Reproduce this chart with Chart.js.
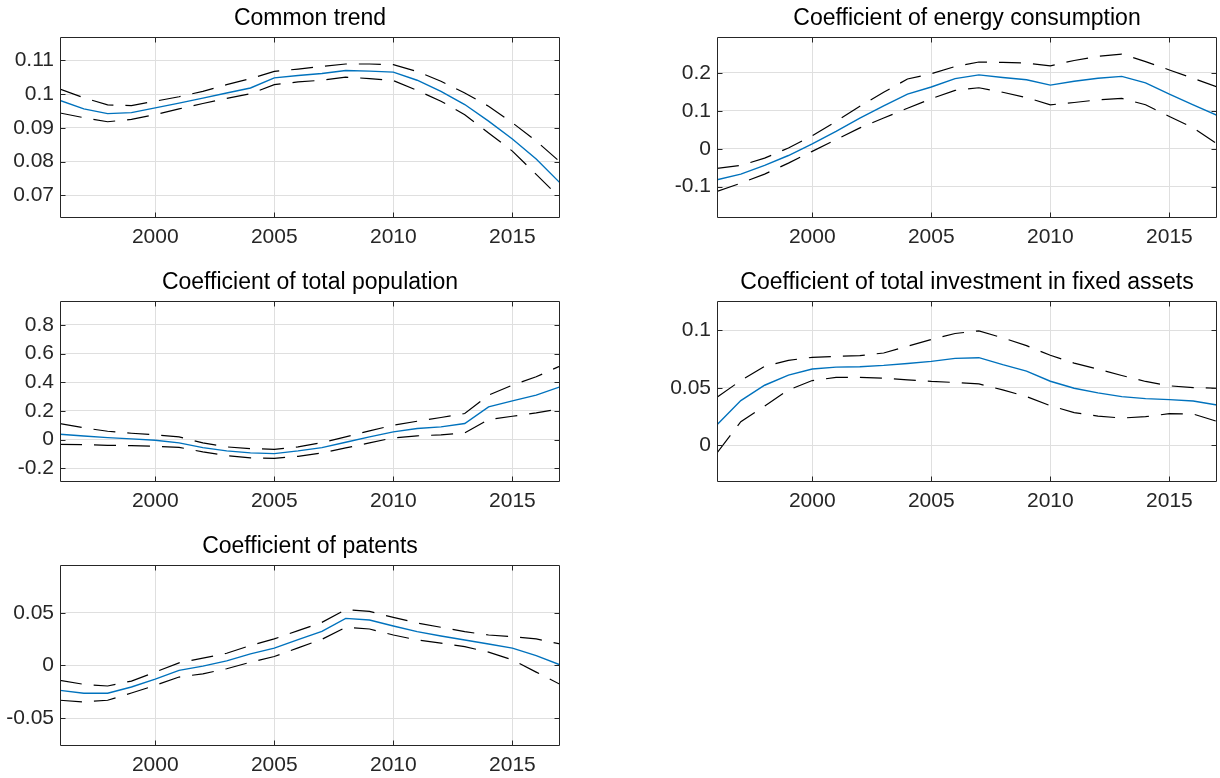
<!DOCTYPE html>
<html>
<head>
<meta charset="utf-8">
<script src="https://cdn.jsdelivr.net/npm/chart.js@4.4.1/dist/chart.umd.min.js"></script>
<style>
  html, body { margin: 0; padding: 0; background: #ffffff; }
  #fig { position: relative; width: 1220px; height: 778px; overflow: hidden; background: #ffffff; }
  #fig canvas { position: absolute; }
</style>
</head>
<body>
<div id="fig"></div>
<script>
// Sample years (x axis)
const years = [1996, 1997, 1998, 1999, 2000, 2001, 2002, 2003, 2004, 2005, 2006,
               2007, 2008, 2009, 2010, 2011, 2012, 2013, 2014, 2015, 2016, 2017];
const xTickValues = [2000, 2005, 2010, 2015];
const xTickLabels = ['2000', '2005', '2010', '2015'];

// Common trend: estimate with upper / lower bands
const trendEstimate = [0.0981, 0.0956, 0.0942, 0.0945, 0.0959, 0.0973, 0.0988, 0.1003, 0.1018, 0.1048, 0.1055,
                       0.1061, 0.1070, 0.1068, 0.1065, 0.1041, 0.1008, 0.0969, 0.0920, 0.0867, 0.0808, 0.0737];
const trendUpper    = [0.1015, 0.0989, 0.0968, 0.0966, 0.0979, 0.0992, 0.1008, 0.1028, 0.1046, 0.1067, 0.1074,
                       0.1082, 0.1089, 0.1089, 0.1087, 0.1067, 0.1038, 0.1003, 0.0964, 0.0915, 0.0861, 0.0799];
const trendLower    = [0.0944, 0.0930, 0.0918, 0.0925, 0.0939, 0.0956, 0.0972, 0.0987, 0.1001, 0.1028, 0.1036,
                       0.1041, 0.1050, 0.1046, 0.1040, 0.1011, 0.0979, 0.0939, 0.0885, 0.0831, 0.0762, 0.0693];
const trendTickValues = [0.07, 0.08, 0.09, 0.1, 0.11];
const trendTickLabels = ['0.07', '0.08', '0.09', '0.1', '0.11'];

// Coefficient of energy consumption
const energyEstimate = [-0.082, -0.067, -0.044, -0.018, 0.013, 0.046, 0.081, 0.113, 0.144, 0.163, 0.185,
                        0.195, 0.188, 0.182, 0.168, 0.178, 0.186, 0.191, 0.174, 0.144, 0.116, 0.088];
const energyUpper    = [-0.052, -0.044, -0.025, 0.002, 0.034, 0.072, 0.112, 0.149, 0.184, 0.198, 0.217,
                        0.229, 0.228, 0.226, 0.219, 0.233, 0.244, 0.250, 0.230, 0.208, 0.186, 0.163];
const energyLower    = [-0.113, -0.091, -0.067, -0.038, -0.007, 0.024, 0.055, 0.081, 0.107, 0.132, 0.154,
                        0.161, 0.149, 0.135, 0.116, 0.122, 0.129, 0.133, 0.116, 0.085, 0.055, 0.013];
const energyTickValues = [-0.1, 0, 0.1, 0.2];
const energyTickLabels = ['-0.1', '0', '0.1', '0.2'];

// Coefficient of total population
const populationEstimate = [0.037, 0.025, 0.014, 0.005, -0.005, -0.023, -0.056, -0.079, -0.093, -0.098, -0.079,
                            -0.056, -0.019, 0.019, 0.054, 0.077, 0.089, 0.112, 0.228, 0.270, 0.310, 0.368];
const populationUpper    = [0.112, 0.082, 0.058, 0.044, 0.033, 0.019, -0.023, -0.051, -0.063, -0.068, -0.051,
                            -0.021, 0.019, 0.061, 0.100, 0.128, 0.154, 0.182, 0.310, 0.380, 0.438, 0.513];
const populationLower    = [-0.033, -0.035, -0.040, -0.042, -0.047, -0.054, -0.086, -0.112, -0.128, -0.131, -0.117,
                            -0.093, -0.058, -0.023, 0.012, 0.026, 0.033, 0.047, 0.140, 0.163, 0.186, 0.214];
const populationTickValues = [-0.2, 0, 0.2, 0.4, 0.6, 0.8];
const populationTickLabels = ['-0.2', '0', '0.2', '0.4', '0.6', '0.8'];

// Coefficient of total investment in fixed assets
const investmentEstimate = [0.0178, 0.0389, 0.0523, 0.0611, 0.0664, 0.0681, 0.0684, 0.0696, 0.0713, 0.0731, 0.0757,
                            0.0763, 0.0702, 0.0646, 0.0558, 0.0497, 0.0456, 0.0424, 0.0406, 0.0398, 0.0386, 0.0351];
const investmentUpper    = [0.0418, 0.0564, 0.0687, 0.0740, 0.0766, 0.0775, 0.0781, 0.0804, 0.0863, 0.0921, 0.0974,
                            0.0997, 0.0936, 0.0868, 0.0784, 0.0716, 0.0664, 0.0608, 0.0556, 0.0518, 0.0503, 0.0497];
const investmentLower    = [-0.0067, 0.0205, 0.0342, 0.0482, 0.0564, 0.0591, 0.0591, 0.0585, 0.0570, 0.0556, 0.0547,
                            0.0535, 0.0482, 0.0424, 0.0345, 0.0284, 0.0254, 0.0237, 0.0249, 0.0275, 0.0272, 0.0208];
const investmentTickValues = [0, 0.05, 0.1];
const investmentTickLabels = ['0', '0.05', '0.1'];

// Coefficient of patents
const patentsEstimate = [-0.0236, -0.0264, -0.0264, -0.0204, -0.0129, -0.0047, -0.0006, 0.0044, 0.0110, 0.0164, 0.0245,
                         0.0324, 0.0447, 0.0431, 0.0374, 0.0321, 0.0280, 0.0242, 0.0204, 0.0164, 0.0094, 0.0006];
const patentsUpper    = [-0.0142, -0.0179, -0.0195, -0.0148, -0.0063, 0.0025, 0.0069, 0.0116, 0.0189, 0.0252, 0.0330,
                         0.0409, 0.0531, 0.0513, 0.0456, 0.0403, 0.0362, 0.0321, 0.0289, 0.0274, 0.0252, 0.0204];
const patentsLower    = [-0.0330, -0.0346, -0.0330, -0.0261, -0.0189, -0.0110, -0.0079, -0.0031, 0.0031, 0.0085, 0.0167,
                         0.0248, 0.0362, 0.0346, 0.0289, 0.0242, 0.0211, 0.0179, 0.0126, 0.0053, -0.0063, -0.0179];
const patentsTickValues = [-0.05, 0, 0.05];
const patentsTickLabels = ['-0.05', '0', '0.05'];

// ---- styling / layout ----
const FONT = '"Liberation Sans", Arial, Helvetica, sans-serif';
const TICK_SIZE = 21;
const TITLE_SIZE = 23;
const AXIS_COLOR = '#262626';
const GRID_COLOR = '#dfdfdf';
const EST_COLOR = '#0072BD';
const BAND_COLOR = '#000000';
const BAND_DASH = [22, 12];

const BOX_W = 500, BOX_H = 181;
const Y_AXIS_W = 60, X_AXIS_H = 40, TITLE_SPACE = 31, RIGHT_PAD = 10;

const panels = [
  { title: 'Common trend', est: trendEstimate, up: trendUpper, lo: trendLower,
    ticks: trendTickValues, labels: trendTickLabels, min: 0.0633, max: 0.1169, left: 60, top: 37 },
  { title: 'Coefficient of energy consumption', est: energyEstimate, up: energyUpper, lo: energyLower,
    ticks: energyTickValues, labels: energyTickLabels, min: -0.183, max: 0.295, left: 717, top: 37 },
  { title: 'Coefficient of total population', est: populationEstimate, up: populationUpper, lo: populationLower,
    ticks: populationTickValues, labels: populationTickLabels, min: -0.296, max: 0.967, left: 60, top: 301 },
  { title: 'Coefficient of total investment in fixed assets', est: investmentEstimate, up: investmentUpper, lo: investmentLower,
    ticks: investmentTickValues, labels: investmentTickLabels, min: -0.032, max: 0.1257, left: 717, top: 301 },
  { title: 'Coefficient of patents', est: patentsEstimate, up: patentsUpper, lo: patentsLower,
    ticks: patentsTickValues, labels: patentsTickLabels, min: -0.0764, max: 0.0953, left: 60, top: 565 }
];

// Axes box with inward tick marks on all four sides
const axesFrame = {
  id: 'axesFrame',
  afterDatasetsDraw(chart) {
    const { ctx, chartArea: a, scales } = chart;
    const tickLen = 5;
    ctx.save();
    ctx.strokeStyle = AXIS_COLOR;
    ctx.lineWidth = 1;
    ctx.beginPath();
    const l = Math.round(a.left) + 0.5, r = Math.round(a.right) - 0.5;
    const t = Math.round(a.top) + 0.5, b = Math.round(a.bottom) - 0.5;
    ctx.rect(l, t, r - l, b - t);
    scales.x.ticks.forEach(tk => {
      const px = Math.round(scales.x.getPixelForValue(tk.value)) + 0.5;
      ctx.moveTo(px, b); ctx.lineTo(px, b - tickLen);
      ctx.moveTo(px, t); ctx.lineTo(px, t + tickLen);
    });
    scales.y.ticks.forEach(tk => {
      const py = Math.round(scales.y.getPixelForValue(tk.value)) + 0.5;
      ctx.moveTo(l, py); ctx.lineTo(l + tickLen, py);
      ctx.moveTo(r, py); ctx.lineTo(r - tickLen, py);
    });
    ctx.stroke();
    ctx.restore();
  }
};

const fig = document.getElementById('fig');

panels.forEach(p => {
  const canvas = document.createElement('canvas');
  const w = Y_AXIS_W + BOX_W + RIGHT_PAD;
  const h = TITLE_SPACE + BOX_H + X_AXIS_H;
  canvas.width = w; canvas.height = h;
  canvas.style.width = w + 'px'; canvas.style.height = h + 'px';
  canvas.style.left = (p.left - Y_AXIS_W) + 'px';
  canvas.style.top = (p.top - TITLE_SPACE) + 'px';
  fig.appendChild(canvas);

  const pts = vals => years.map((yr, i) => ({ x: yr, y: vals[i] }));

  new Chart(canvas, {
    type: 'line',
    data: {
      datasets: [
        { data: pts(p.up), borderColor: BAND_COLOR, borderWidth: 1.2, borderDash: BAND_DASH },
        { data: pts(p.lo), borderColor: BAND_COLOR, borderWidth: 1.2, borderDash: BAND_DASH },
        { data: pts(p.est), borderColor: EST_COLOR, borderWidth: 1.4 }
      ]
    },
    options: {
      responsive: false,
      animation: false,
      devicePixelRatio: 1,
      layout: { padding: { left: 0, right: RIGHT_PAD, top: 0, bottom: 0 } },
      elements: { point: { radius: 0 }, line: { tension: 0, fill: false } },
      plugins: {
        legend: { display: false },
        tooltip: { enabled: false },
        title: {
          display: true,
          text: p.title,
          fullSize: false,
          color: '#000000',
          font: { family: FONT, size: TITLE_SIZE, weight: 'normal', lineHeight: '26px' },
          padding: { top: 0, bottom: 5 }
        }
      },
      scales: {
        x: {
          type: 'linear',
          min: 1996, max: 2017,
          afterBuildTicks: s => { s.ticks = xTickValues.map(v => ({ value: v })); },
          afterFit: s => { s.height = X_AXIS_H; },
          grid: { color: GRID_COLOR, lineWidth: 1, drawTicks: false },
          border: { display: false },
          ticks: {
            color: AXIS_COLOR, padding: 7, maxRotation: 0, autoSkip: false,
            font: { family: FONT, size: TICK_SIZE },
            callback: (v, i) => xTickLabels[i]
          }
        },
        y: {
          type: 'linear',
          min: p.min, max: p.max,
          afterBuildTicks: s => { s.ticks = p.ticks.map(v => ({ value: v })); },
          afterFit: s => { s.width = Y_AXIS_W; },
          grid: { color: GRID_COLOR, lineWidth: 1, drawTicks: false },
          border: { display: false },
          ticks: {
            color: AXIS_COLOR, padding: 6, autoSkip: false,
            font: { family: FONT, size: TICK_SIZE },
            callback: (v, i) => p.labels[i]
          }
        }
      }
    },
    plugins: [axesFrame]
  });
});
</script>
</body>
</html>
